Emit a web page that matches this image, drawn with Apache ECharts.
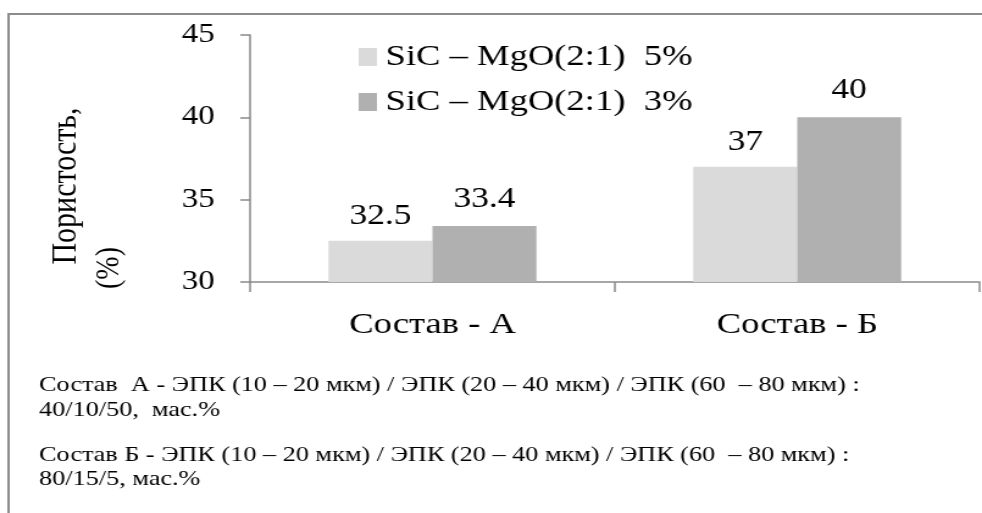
<!DOCTYPE html>
<html>
<head>
<meta charset="utf-8">
<script src="https://cdn.jsdelivr.net/npm/echarts@6/dist/echarts.min.js"></script>
<style>
  html, body { margin: 0; padding: 0; background: #ffffff; overflow: hidden; }
  /* The figure is laid out on a narrower canvas and widened horizontally */
  #chart { width: 805px; height: 513px; transform: scaleX(1.2199); transform-origin: 0 0; }
</style>
</head>
<body>
<div id="chart"></div>
<script>
// Porosity of the two compositions for two additive contents
const categories = ['Состав - А', 'Состав - Б'];
const seriesNames = ['SiC – MgO(2:1)  5%', 'SiC – MgO(2:1)  3%'];
const porosity5 = [32.5, 37];
const porosity3 = [33.4, 40];
const yMin = 30, yMax = 45, yStep = 5;
const yTitle = ['Пористость,', '(%)'];
const notes = [
  'Состав  А - ЭПК (10 – 20 мкм) / ЭПК (20 – 40 мкм) / ЭПК (60  – 80 мкм) :',
  '40/10/50,  мас.%',
  'Состав Б - ЭПК (10 – 20 мкм) / ЭПК (20 – 40 мкм) / ЭПК (60  – 80 мкм) :',
  '80/15/5, мас.%'
];

const serif = 'Liberation Serif';
const axisGrey = '#8a8a8a';
const noteY = [385, 410, 455, 479];

const chart = echarts.init(document.getElementById('chart'));
chart.setOption({
  animation: false,
  backgroundColor: '#ffffff',
  textStyle: { fontFamily: serif, color: '#000' },
  grid: { left: 205, right: 2, top: 35, bottom: 231, containLabel: false },
  legend: {
    orient: 'vertical',
    left: 289,
    top: 37,
    itemWidth: 15,
    itemHeight: 18,
    itemGap: 15,
    icon: 'rect',
    textStyle: { fontFamily: serif, fontSize: 30, color: '#000', padding: [0, 0, 0, 2] },
    data: seriesNames
  },
  xAxis: {
    type: 'category',
    data: categories,
    axisLine: { lineStyle: { color: axisGrey, width: 1.5 } },
    axisTick: { show: true, length: 10, lineStyle: { color: axisGrey, width: 1.5 } },
    axisLabel: { fontFamily: serif, fontSize: 30, color: '#000', margin: 28 }
  },
  yAxis: {
    type: 'value',
    min: yMin,
    max: yMax,
    interval: yStep,
    axisLine: { show: true, lineStyle: { color: axisGrey, width: 1.5 } },
    axisTick: { show: true, length: 8, lineStyle: { color: axisGrey, width: 1.5 } },
    splitLine: { show: false },
    axisLabel: { fontFamily: serif, fontSize: 27, color: '#000', margin: 29 }
  },
  series: [
    {
      name: seriesNames[0],
      type: 'bar',
      data: porosity5,
      barGap: '0%',
      barCategoryGap: '43%',
      itemStyle: { color: '#dadada' },
      label: { show: true, position: 'top', distance: 10, fontFamily: serif, fontSize: 29, color: '#000' }
    },
    {
      name: seriesNames[1],
      type: 'bar',
      data: porosity3,
      barGap: '0%',
      barCategoryGap: '43%',
      itemStyle: { color: '#b0b0b0' },
      label: { show: true, position: 'top', distance: 12, fontFamily: serif, fontSize: 29, color: '#000' }
    }
  ],
  graphic: [
    {
      type: 'rect',
      shape: { x: 7, y: 14, width: 900, height: 600 },
      style: { fill: 'none', stroke: '#8c8c8c', lineWidth: 2 },
      silent: true
    },
    {
      type: 'text',
      x: 53.7, y: 186, rotation: Math.PI / 2,
      style: { text: yTitle[0], font: '30px ' + serif, fill: '#000', align: 'center', verticalAlign: 'middle' }
    },
    {
      type: 'text',
      x: 89.3, y: 268, rotation: Math.PI / 2,
      style: { text: yTitle[1], font: '28px ' + serif, fill: '#000', align: 'center', verticalAlign: 'middle' }
    }
  ].concat(notes.map(function (t, i) {
    return {
      type: 'text',
      x: 32, y: noteY[i],
      style: { text: t, font: '21.5px ' + serif, fill: '#000', align: 'left', verticalAlign: 'middle' }
    };
  }))
});
</script>
</body>
</html>
